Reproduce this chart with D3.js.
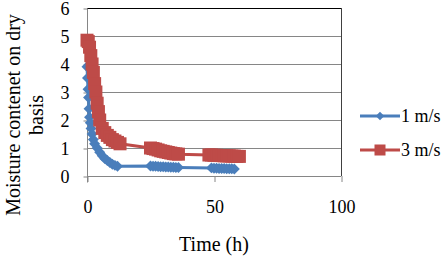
<!DOCTYPE html>
<html>
<head>
<meta charset="utf-8">
<script src="https://cdn.jsdelivr.net/npm/d3@7"></script>
<style>
  body { margin: 0; background: #fff; }
</style>
</head>
<body>
<svg id="chart"></svg>
<script>
const width = 447;
const height = 258;

// 1 m/s series
const time1 = [0, 0.2, 0.4, 0.6, 0.8, 1, 1.3, 1.6, 2, 2.5, 3, 4, 5, 6, 7, 8, 9, 10, 11, 12,
  25, 26, 27, 28, 29, 30, 31, 32, 33, 34, 35, 36,
  49, 50, 51, 52, 53, 54, 55, 56, 57, 58];
const moist1 = [3.9, 3.5, 3.1, 2.8, 2.4, 2.1, 1.9, 1.7, 1.5, 1.3, 1.15, 1.0, 0.85, 0.72, 0.62, 0.55, 0.48, 0.42, 0.38, 0.35,
  0.36, 0.35, 0.35, 0.34, 0.33, 0.33, 0.32, 0.32, 0.31, 0.31, 0.3, 0.3,
  0.29, 0.28, 0.28, 0.27, 0.27, 0.27, 0.26, 0.26, 0.26, 0.25];

// 3 m/s series
const time3 = [0, 0.5, 1, 1.5, 2, 2.5, 3, 3.5, 4, 4.5, 5, 6, 7, 8, 9, 10, 11, 12, 13,
  25, 26, 27, 28, 29, 30, 31, 32, 33, 34, 35, 36,
  48, 49, 50, 51, 52, 53, 54, 55, 56, 57, 58, 59, 60];
const moist3 = [4.85, 4.8, 4.6, 4.3, 4.0, 3.7, 3.3, 3.0, 2.6, 2.3, 2.0, 1.7, 1.55, 1.45, 1.38, 1.3, 1.25, 1.2, 1.15,
  1.0, 0.98, 0.96, 0.93, 0.9, 0.88, 0.86, 0.84, 0.82, 0.8, 0.79, 0.78,
  0.75, 0.75, 0.74, 0.74, 0.73, 0.73, 0.72, 0.72, 0.72, 0.71, 0.71, 0.7, 0.7];

const xTicks = [0, 50, 100];
const yTicks = [0, 1, 2, 3, 4, 5, 6];
const seriesNames = ['1 m/s', '3 m/s'];

const blue = '#4a7ebb';
const red = '#be4b48';
const serif = '"Liberation Serif"';

const x = d3.scaleLinear().domain([0, 100]).range([87, 341]);
const y = d3.scaleLinear().domain([0, 6]).range([176, 8]);

const svg = d3.select('#chart')
    .attr('width', width)
    .attr('height', height);

// gridlines
svg.append('g')
  .selectAll('line')
  .data(yTicks.slice(1, -1))
  .join('line')
    .attr('x1', x(0)).attr('x2', x(100))
    .attr('y1', d => y(d) + 0.5).attr('y2', d => y(d) + 0.5)
    .attr('stroke', '#868686');

// bottom axis line (y = 0)
svg.append('line')
    .attr('x1', x(0)).attr('x2', x(100))
    .attr('y1', y(0) + 0.5).attr('y2', y(0) + 0.5)
    .attr('stroke', '#868686');

// plot border top / right
svg.append('line')
    .attr('x1', x(0)).attr('x2', x(100) + 0.5)
    .attr('y1', y(6) + 0.5).attr('y2', y(6) + 0.5)
    .attr('stroke', '#000');
svg.append('line')
    .attr('x1', x(100) + 0.5).attr('x2', x(100) + 0.5)
    .attr('y1', y(6)).attr('y2', y(0))
    .attr('stroke', '#404040');

// x axis ticks
const xAxis = svg.append('g')
    .attr('transform', `translate(0.5,${y(0)})`)
    .call(d3.axisBottom(x).tickValues(xTicks).tickFormat(d3.format('d')).tickSize(6).tickPadding(18));
xAxis.select('.domain').remove();
xAxis.selectAll('line').attr('stroke', '#868686');
xAxis.selectAll('text').style('font-family', serif).style('font-size', '18px').attr('fill', '#000');

// y axis
const yAxis = svg.append('g')
    .attr('transform', `translate(${x(0) + 0.5},0.5)`)
    .call(d3.axisLeft(y).tickValues(yTicks).tickFormat(d3.format('d')).tickSize(4).tickPadding(14));
yAxis.select('.domain').attr('d', `M0,${y(6)}V${y(0) + 6}`).attr('stroke', '#868686');
yAxis.selectAll('line').attr('stroke', '#868686');
yAxis.selectAll('text').style('font-family', serif).style('font-size', '18px').attr('fill', '#000');

// lines
const pts1 = time1.map((t, i) => [t, moist1[i]]);
const pts3 = time3.map((t, i) => [t, moist3[i]]);
const line = d3.line().x(d => x(d[0])).y(d => y(d[1]));

svg.append('path')
    .datum(pts1)
    .attr('d', line)
    .attr('fill', 'none')
    .attr('stroke', blue)
    .attr('stroke-width', 3);

const diamond = d3.symbol(d3.symbolSquare, 60);
svg.append('g')
  .selectAll('path')
  .data(pts1)
  .join('path')
    .attr('d', diamond)
    .attr('transform', d => `translate(${x(d[0])},${y(d[1])}) rotate(45)`)
    .attr('fill', blue);

svg.append('path')
    .datum(pts3)
    .attr('d', line)
    .attr('fill', 'none')
    .attr('stroke', red)
    .attr('stroke-width', 3);

svg.append('g')
  .selectAll('rect')
  .data(pts3)
  .join('rect')
    .attr('x', d => x(d[0]) - 6.5)
    .attr('y', d => y(d[1]) - 6.5)
    .attr('width', 13)
    .attr('height', 13)
    .attr('fill', red);

// legend
const legend = svg.append('g').attr('transform', 'translate(360,0)');
const legendY = [116, 150];
seriesNames.forEach((name, i) => {
  const g = legend.append('g').attr('transform', `translate(0,${legendY[i]})`);
  g.append('line')
      .attr('x1', 0).attr('x2', 40)
      .attr('stroke', i === 0 ? blue : red)
      .attr('stroke-width', 3);
  if (i === 0) {
    g.append('path')
        .attr('d', d3.symbol(d3.symbolSquare, 36))
        .attr('transform', 'translate(20,0) rotate(45)')
        .attr('fill', blue);
  } else {
    g.append('rect')
        .attr('x', 14.5).attr('y', -5.5)
        .attr('width', 11).attr('height', 11)
        .attr('fill', red);
  }
  g.append('text')
      .attr('x', 41)
      .attr('dy', '0.33em')
      .style('font-family', serif)
      .style('font-size', '18px')
      .text(name);
});

// axis titles
svg.append('text')
    .attr('x', 214)
    .attr('y', 251)
    .attr('text-anchor', 'middle')
    .style('font-family', serif)
    .style('font-size', '20px')
    .text('Time (h)');

const yTitle = svg.append('text')
    .attr('transform', 'translate(0,115) rotate(-90)')
    .attr('text-anchor', 'middle')
    .style('font-family', serif)
    .style('font-size', '20px');
yTitle.append('tspan').attr('x', 0).attr('y', 20).text('Moisture contenet on dry');
yTitle.append('tspan').attr('x', 0).attr('y', 43).text('basis');
</script>
</body>
</html>
